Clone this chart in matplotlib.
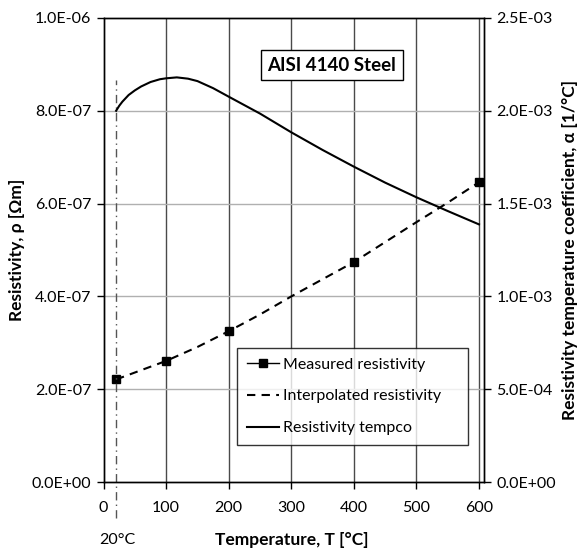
import matplotlib
matplotlib.use("Agg")
import matplotlib.pyplot as plt
from matplotlib.lines import Line2D
from matplotlib.transforms import blended_transform_factory

plt.rcParams['font.family'] = ['Lato', 'DejaVu Sans']

# Measured resistivity points
meas_T = [20, 100, 200, 400, 600]
meas_rho = [2.21e-7, 2.61e-7, 3.25e-7, 4.74e-7, 6.46e-7]

# Interpolated resistivity curve
interp_T = [20, 50, 100, 150, 200, 250, 300, 350, 400, 450, 500, 550, 600]
interp_rho = [2.21e-7, 2.36e-7, 2.61e-7, 2.91e-7, 3.25e-7, 3.61e-7, 4.00e-7,
              4.37e-7, 4.74e-7, 5.17e-7, 5.60e-7, 6.02e-7, 6.46e-7]

# Resistivity temperature coefficient
tc_T = [20, 25, 30, 40, 50, 60, 75, 90, 100, 117, 135, 150, 175, 200, 250, 300,
        350, 400, 450, 500, 550, 600]
tc_alpha = [2.000e-3, 2.027e-3, 2.049e-3, 2.085e-3, 2.110e-3, 2.131e-3, 2.155e-3,
            2.170e-3, 2.175e-3, 2.180e-3, 2.173e-3, 2.160e-3, 2.122e-3, 2.076e-3,
            1.985e-3, 1.884e-3, 1.789e-3, 1.699e-3, 1.613e-3, 1.534e-3, 1.460e-3,
            1.388e-3]

left_ticks = [0, 2e-7, 4e-7, 6e-7, 8e-7, 1e-6]
left_labels = ["0.0E+00", "2.0E-07", "4.0E-07", "6.0E-07", "8.0E-07", "1.0E-06"]
right_ticks = [0, 5e-4, 1e-3, 1.5e-3, 2e-3, 2.5e-3]
right_labels = ["0.0E+00", "5.0E-04", "1.0E-03", "1.5E-03", "2.0E-03", "2.5E-03"]
x_ticks = [0, 100, 200, 300, 400, 500, 600]

fig = plt.figure(figsize=(5.82, 5.5), dpi=100)
ax = fig.add_axes([0.178, 0.1236, 0.6536, 0.8437])
ax2 = ax.twinx()

ax.set_xlim(0, 608)
ax.set_ylim(0, 1e-6)
ax2.set_ylim(0, 2.5e-3)

# grid
for t in x_ticks[1:]:
    ax.axvline(t, color='#4a4a4a', lw=1.0, zorder=0)
for v in left_ticks[1:-1]:
    ax.axhline(v, color='#b0b0b0', lw=1.0, zorder=0)

ax.plot(interp_T, interp_rho, color='black', lw=1.5, ls=(0, (4, 3)))
ax.plot(meas_T, meas_rho, 's', color='black', ms=6, ls='none')
ax2.plot(tc_T, tc_alpha, color='black', lw=1.5)

# 20 degC marker line
ax.plot([20, 20], [-0.078e-6, 0.866e-6], color='#555555', lw=1.0,
        ls=(0, (6, 3, 1, 3)), clip_on=False)

ax.set_xticks(x_ticks)
ax.set_yticks(left_ticks)
ax.set_yticklabels(left_labels)
ax2.set_yticks(right_ticks)
ax2.set_yticklabels(right_labels)

for a in (ax, ax2):
    a.tick_params(direction='out', length=5, width=1, labelsize=11.5, colors='black', pad=4)
    for s in a.spines.values():
        s.set_color('black')
        s.set_linewidth(1.0)
ax.tick_params(axis='x', pad=9)

ax.set_ylabel("Resistivity, ρ [Ωm]", fontsize=12.5, fontweight='bold', labelpad=5)
ax2.set_ylabel("Resistivity temperature coefficient, α [1/°C]", fontsize=12.5,
               fontweight='bold', labelpad=4)

trans = blended_transform_factory(ax.transData, ax.transAxes)
ax.text(300, -0.125, "Temperature, T [°C]", transform=trans, ha='center', va='center',
        fontsize=12.5, fontweight='bold')
ax.text(22, -0.125, "20°C", transform=trans, ha='center', va='center', fontsize=11.5)

ax2.text(0.6, 0.898, "AISI 4140 Steel", transform=ax.transAxes, ha='center', va='center',
         fontsize=13.5, fontweight='bold', zorder=10,
         bbox=dict(boxstyle='square,pad=0.35', fc='white', ec='black', lw=1.0))

handles = [
    Line2D([], [], color='black', marker='s', ms=6, lw=1.0),
    Line2D([], [], color='black', lw=1.5, ls=(0, (4, 3))),
    Line2D([], [], color='black', lw=1.5),
]
labels = ["Measured resistivity", "Interpolated resistivity", "Resistivity tempco"]
leg = ax2.legend(handles, labels, loc='upper left',
                 bbox_to_anchor=(0.351, 0.289, 0.607, 0.0), mode='expand',
                 frameon=True, fancybox=False, fontsize=11.5, handlelength=2.0,
                 handletextpad=0.3, borderpad=0.6, labelspacing=1.1, borderaxespad=0)
leg.get_frame().set_edgecolor('black')
leg.get_frame().set_linewidth(1.0)
leg.set_zorder(10)

fig.savefig("out.png", dpi=100)
